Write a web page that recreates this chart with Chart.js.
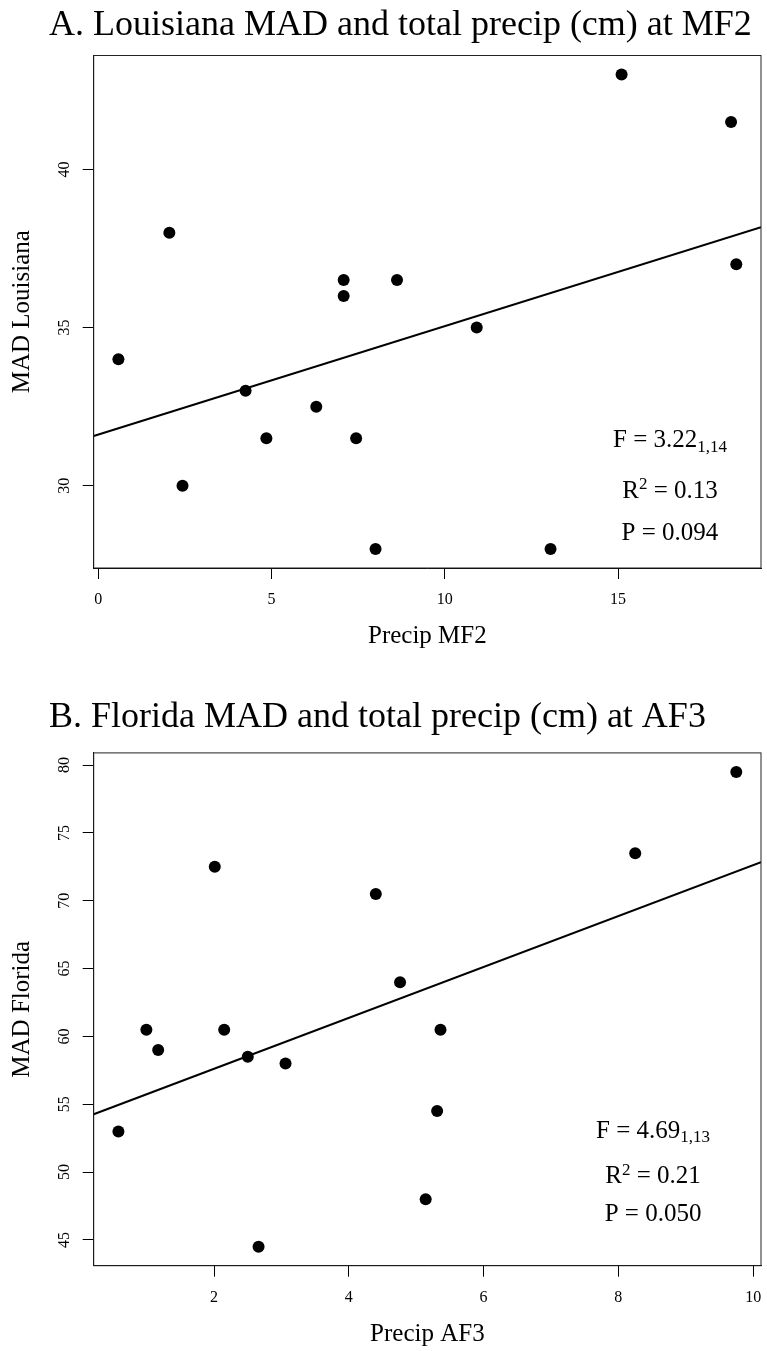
<!DOCTYPE html>
<html><head><meta charset="utf-8">
<script src="https://cdn.jsdelivr.net/npm/chart.js@4.4.0/dist/chart.umd.min.js"></script>
<style>
html,body{margin:0;padding:0;background:#fff;}
#wrap{position:relative;width:767px;height:1351px;overflow:hidden;background:#fff;}
.pane{position:absolute;left:0;width:767px;}
canvas{display:block;}
</style></head><body>
<div id="wrap">
<div class="pane" style="top:0;height:680px"><canvas id="cA" width="767" height="680"></canvas></div>
<div class="pane" style="top:680px;height:671px"><canvas id="cB" width="767" height="671"></canvas></div>
</div>
<script>
// ---- Data ----
const precipMF2    = [0.58, 2.05, 2.43, 4.25, 4.85, 6.29, 7.08, 7.08, 7.44, 8.00, 8.62, 10.92, 13.05, 15.10, 18.26, 18.41];
const madLouisiana = [34.0, 38.0, 30.0, 33.0, 31.5, 32.5, 36.5, 36.0, 31.5, 28.0, 36.5, 35.0, 28.0, 43.0, 41.5, 37.0];
const precipAF3    = [0.58, 0.995, 1.17, 2.01, 2.15, 2.50, 2.66, 3.06, 4.40, 4.76, 5.36, 5.31, 5.14, 8.25, 9.75];
const madFlorida   = [53.0, 60.5, 59.0, 72.5, 60.5, 58.5, 44.5, 58.0, 70.5, 64.0, 60.5, 54.5, 48.0, 73.5, 79.5];
const xTicksA = [0, 5, 10, 15];
const yTicksA = [30, 35, 40];
const xTicksB = [2, 4, 6, 8, 10];
const yTicksB = [45, 50, 55, 60, 65, 70, 75, 80];
const statsA = ['3.22', '1,14', '0.13', '0.094'];
const statsB = ['4.69', '1,13', '0.21', '0.050'];
const titleA = 'A. Louisiana MAD and total precip (cm) at MF2';
const titleB = 'B. Florida MAD and total precip (cm) at AF3';

const FONT = "'Liberation Serif', 'Times New Roman', serif";
Chart.defaults.font.family = FONT;
Chart.defaults.color = '#000';

function rRange(v){const lo=Math.min(...v),hi=Math.max(...v),p=(hi-lo)*0.04;return [lo-p,hi+p];}
function lsFit(x,y){
  const n=x.length,mx=x.reduce((a,b)=>a+b,0)/n,my=y.reduce((a,b)=>a+b,0)/n;
  let sxy=0,sxx=0;for(let i=0;i<n;i++){sxy+=(x[i]-mx)*(y[i]-my);sxx+=(x[i]-mx)**2;}
  const b=sxy/sxx;return {a:my-b*mx,b};
}

const framePlugin = {
  id:'frame',
  afterDatasetsDraw(chart){
    const {ctx,chartArea:ca}=chart;
    ctx.save();ctx.strokeStyle='#222';ctx.lineWidth=1;
    ctx.strokeRect(ca.left,ca.top,ca.right-ca.left,ca.bottom-ca.top);
    ctx.restore();
  }
};

const statsPlugin = {
  id:'stats',
  afterDraw(chart,args,opts){
    const {ctx,chartArea:ca}=chart;
    const cx=ca.left+opts.fx*(ca.right-ca.left);
    const main=opts.size+'px '+FONT, small=opts.small+'px '+FONT;
    ctx.save();ctx.fillStyle='#000';ctx.textBaseline='alphabetic';ctx.textAlign='left';
    opts.lines.forEach((segs,i)=>{
      const by=ca.top+opts.fy[i]*(ca.bottom-ca.top);
      let w=0;
      segs.forEach(s=>{ctx.font=s[1]==='n'?main:small;w+=ctx.measureText(s[0]).width;});
      let x=cx-w/2;
      segs.forEach(s=>{
        ctx.font=s[1]==='n'?main:small;
        const dy=s[1]==='sub'?opts.subDrop:(s[1]==='sup'?-opts.supRaise:0);
        ctx.fillText(s[0],x,by+dy);
        x+=ctx.measureText(s[0]).width;
      });
    });
    ctx.restore();
  }
};

function makeChart(id,c){
  const [xmin,xmax]=rRange(c.x),[ymin,ymax]=rRange(c.y);
  const f=lsFit(c.x,c.y);
  const pts=c.x.map((v,i)=>({x:v,y:c.y[i]}));
  const st=c.stats;
  return new Chart(document.getElementById(id),{
    type:'scatter',
    data:{datasets:[
      {type:'line',data:[{x:xmin,y:f.a+f.b*xmin},{x:xmax,y:f.a+f.b*xmax}],borderColor:'#000',borderWidth:2,pointRadius:0,fill:false,tension:0,order:2},
      {type:'scatter',data:pts,backgroundColor:'#000',borderColor:'#000',borderWidth:0,pointRadius:6,pointHoverRadius:6,order:1}
    ]},
    options:{
      responsive:false,animation:false,events:[],
      layout:{padding:{left:49,right:1.3,top:0,bottom:c.padBottom}},
      plugins:{
        legend:{display:false},tooltip:{enabled:false},
        title:{display:true,text:c.title,align:'start',color:'#000',font:{size:36,weight:'normal',family:FONT},padding:{top:c.tTop,bottom:c.tBottom}},
        stats:{fx:c.fx,fy:c.fy,size:25,small:17,subDrop:4.5,supRaise:8.5,lines:[
          [['F = '+st[0],'n'],[st[1],'sub']],
          [['R','n'],['2','sup'],[' = '+st[2],'n']],
          [['P = '+st[3],'n']]
        ]}
      },
      scales:{
        x:{type:'linear',position:'bottom',min:xmin,max:xmax,
          afterBuildTicks:s=>{s.ticks=c.xTicks.map(v=>({value:v}));},
          afterFit:s=>{s.height=84;s.paddingLeft=0;s.paddingRight=0;},
          grid:{display:true,drawOnChartArea:false,drawTicks:true,tickLength:11,color:'#000',lineWidth:1},
          border:{display:true,color:'#000',width:1},
          ticks:{color:'#000',font:{size:16},padding:11.4,minRotation:0,maxRotation:0,autoSkip:false},
          title:{display:true,text:c.xLabel,color:'#000',font:{size:25},padding:{top:0,bottom:0.4}}
        },
        y:{type:'linear',position:'left',min:ymin,max:ymax,
          afterBuildTicks:s=>{s.ticks=c.yTicks.map(v=>({value:v}));},
          afterFit:s=>{s.width=44.7;s.paddingTop=0;s.paddingBottom=0;},
          grid:{display:true,drawOnChartArea:false,drawTicks:true,tickLength:11,color:'#000',lineWidth:1},
          border:{display:true,color:'#000',width:1},
          ticks:{color:'#000',font:{size:16},padding:10.2,minRotation:90,maxRotation:90,crossAlign:'center',autoSkip:false},
          title:{display:true,text:c.yLabel,color:'#000',font:{size:25},padding:{top:-41.5,bottom:0}}
        }
      }
    },
    plugins:[framePlugin,statsPlugin]
  });
}

makeChart('cA',{x:precipMF2,y:madLouisiana,xTicks:xTicksA,yTicks:yTicksA,title:titleA,
  xLabel:'Precip MF2',yLabel:'MAD Louisiana',stats:statsA,padBottom:28,tTop:4.25,tBottom:8.05,
  fx:0.8636,fy:[0.764,0.8626,0.9454]});
makeChart('cB',{x:precipAF3,y:madFlorida,xTicks:xTicksB,yTicks:yTicksB,title:titleB,
  xLabel:'Precip AF3',yLabel:'MAD Florida',stats:statsB,padBottom:1.3,tTop:15.95,tBottom:13.75,
  fx:0.8382,fy:[0.750,0.8397,0.9128]});
</script>
</body></html>
